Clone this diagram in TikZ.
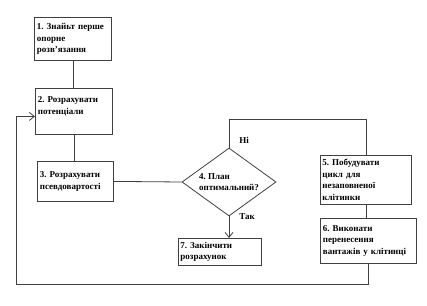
\documentclass[tikz,border=0pt]{standalone}
\usepackage{fontspec}
\setmainfont{Liberation Serif}
\frenchspacing
\usetikzlibrary{shapes.geometric,arrows.meta}
\tikzset{
  stepfont/.style={font=\bfseries\fontsize{9}{11.8}\selectfont},
  stepbox/.style={draw=black!75, line width=0.8pt, anchor=north west, align=left, inner sep=2.5pt, stepfont},
  link/.style={draw=black!75, line width=0.8pt},
  linkarrow/.style={link, -{Straight Barb[length=5pt,width=8pt]}}
}
\begin{document}
\begin{tikzpicture}[x=1pt, y=-1pt]
		\useasboundingbox (0,0) rectangle (427,305);
		% блоки алгоритму
		\node[stepbox, text width=72pt, minimum height=43pt] (s1) at (34,17) {1. Знайьт перше\\опорне\\розв'язання};
		\node[stepbox, text width=72pt, minimum height=46pt] (s2) at (35,88) {2. Розрахувати\\потенціали\\\mbox{}};
		\node[stepbox, text width=71pt, minimum height=40pt] (s3) at (37,161) {3. Розрахувати\\псевдовартості};
		\node[draw=black!75, line width=0.8pt, diamond, minimum width=94pt, minimum height=68pt, inner sep=0pt,
			label={[align=left, stepfont]center:{4. План\\оптимальний?}}] (s4) at (229,182) {};
		\node[stepbox, text width=87pt, minimum height=49pt, inner sep=2pt] (s5) at (320,155) {5. Побудувати\\цикл для\\незаповненої\\клітинки};
		\node[stepbox, text width=91pt, minimum height=45pt] (s6) at (320,218) {6. Виконати\\перенесення\\вантажів у клітинці};
		\node[stepbox, text width=79pt, minimum height=27pt, inner sep=2pt] (s7) at (178,238) {7. Закінчити\\розрахунок};
		
		\draw[link] (s1.south) -- (s1.south |- s2.north);
		\draw[link] (s2.south) -- (s2.south |- s3.north);
		\draw[link] (s3.east) -- (s4.west);
		\draw[link] (s5.south) -- (s5.south |- s6.north);
		
		% гілка "Ні"
		\draw[link] (s4.north) -- ++(0,-28) -| (s5.north);
		\node[stepfont] (no) at (244,140) {Ні};
		
		% гілка "Так"
		\draw[linkarrow] (s4.south) -- (s4.south |- s7.north);
		\node[stepfont] (yes) at (247,217) {Так};
		
		% повернення до кроку 2
		\coordinate (back) at (16,284);
		\draw[linkarrow] (s6.south) |- (back) |- ([yshift=-5pt]s2.west);
	\end{tikzpicture}
\end{document}
